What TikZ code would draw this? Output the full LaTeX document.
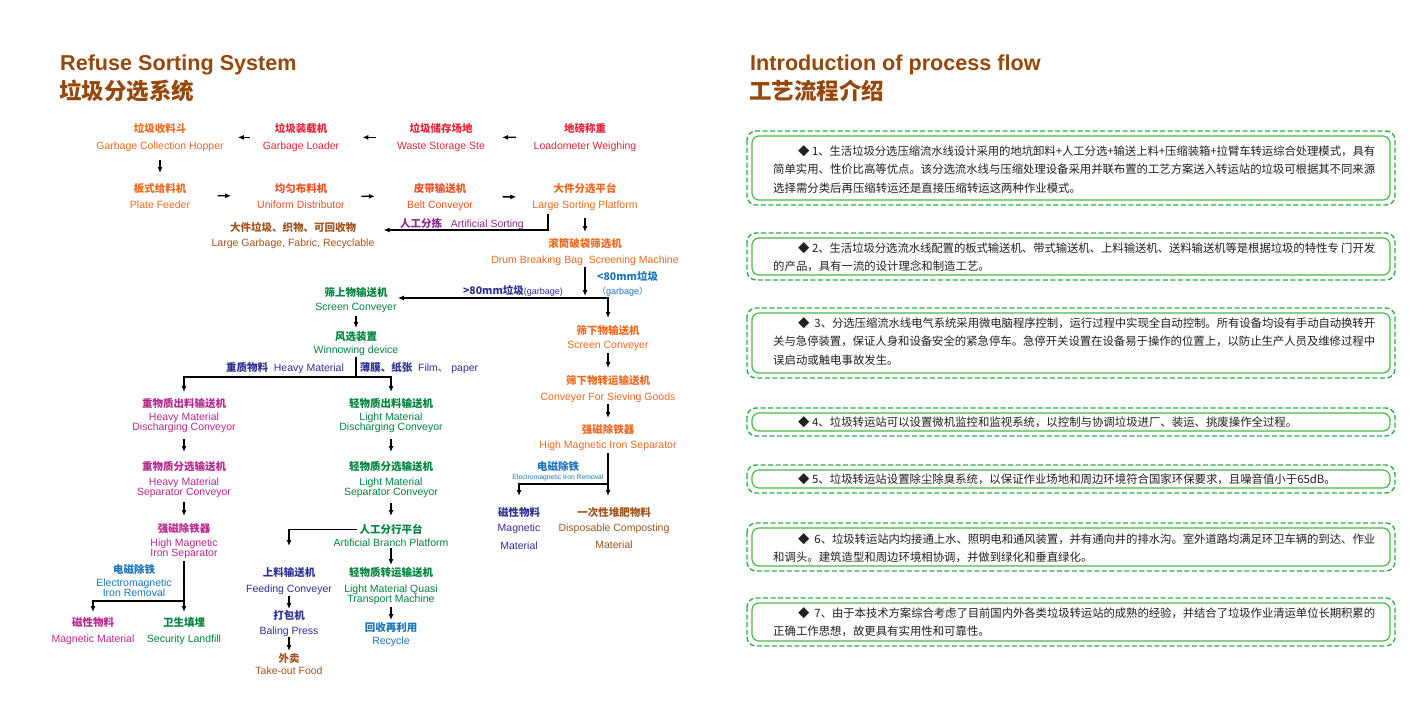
\documentclass[tikz,border=0pt]{standalone}
\usepackage{fontspec}
\setmainfont{Liberation Sans}
\newfontfamily\cjk{Noto Sans CJK SC}
\usetikzlibrary{arrows.meta}
\XeTeXlinebreaklocale "zh"
\XeTeXlinebreakskip=0pt plus 2pt minus 0.6pt
\definecolor{ttl}{RGB}{150,72,12}
\definecolor{cor}{RGB}{238,106,31}
\definecolor{cred}{RGB}{230,36,56}
\definecolor{cortwo}{RGB}{239,80,34}
\definecolor{cbr}{RGB}{160,84,30}
\definecolor{cpu}{RGB}{146,39,143}
\definecolor{cmag}{RGB}{183,40,143}
\definecolor{cnav}{RGB}{46,49,146}
\definecolor{cblu}{RGB}{27,117,188}
\definecolor{cgrn}{RGB}{0,132,61}
\definecolor{fdash}{RGB}{43,176,74}
\definecolor{fsolid}{RGB}{76,184,72}
\definecolor{btx}{RGB}{35,31,32}
\newcommand\zhb[1]{{\cjk\bfseries #1}}
\newcommand\zhr[1]{{\cjk #1}}
\tikzset{
  lbl/.style={inner sep=0pt, align=center, anchor=north, font=\fontsize{10.5}{10.5}\selectfont},
  arr/.style={line width=1.3pt, line cap=rect, -{Latex[length=6pt,width=5pt]}},
  ln/.style={line width=1.3pt, line cap=rect},
  ttlen/.style={anchor=base west, inner sep=0pt, text=ttl, font=\fontsize{21.6}{24}\selectfont\bfseries},
  ttlzh/.style={anchor=base west, inner sep=0pt, text=ttl, font=\fontsize{22.5}{24}\selectfont\cjk\bfseries},
  fout/.style={draw=fdash, line width=1.4pt, dash pattern=on 5pt off 2.5pt, rounded corners=9pt},
  fin/.style={draw=fsolid, line width=1.2pt, rounded corners=7pt},
  btxt/.style={inner sep=0pt, anchor=north west, text width=602pt, align=justify, text=btx, font=\fontsize{11.4}{18.5}\selectfont\cjk}
}
\begin{document}
\begin{tikzpicture}[x=1pt,y=-1pt]
\fill[white] (0,0) rectangle (1417,716);
\useasboundingbox (0,0) rectangle (1417,716);

% titles
\node[ttlen] (tl1) at (60,70) {Refuse Sorting System};
\node[ttlzh] (tl2) at (59,99.5) {垃圾分选系统};
\node[ttlen] (tr1) at (750,70) {Introduction of process flow};
\node[ttlzh] (tr2) at (749,99.5) {工艺流程介绍};

% row 1
\node[lbl, text=cor] (A1) at (160,123) {\zhb{垃圾收料斗}\\[6.5pt]Garbage Collection Hopper};
\node[lbl, text=cred] (A2) at (301,123) {\zhb{垃圾装载机}\\[6.5pt]Garbage Loader};
\node[lbl, text=cred] (A3) at (441,123) {\zhb{垃圾储存场地}\\[6.5pt]Waste Storage Ste};
\node[lbl, text=cred] (A4) at (585,123) {\zhb{地磅称重}\\[6.5pt]Loadometer Weighing};
% row 2
\node[lbl, text=cor] (B1) at (160,183) {\zhb{板式给料机}\\[5.5pt]Plate Feeder};
\node[lbl, text=cortwo] (B2) at (301,183) {\zhb{均匀布料机}\\[5.5pt]Uniform Distributor};
\node[lbl, text=cortwo] (B3) at (440,183) {\zhb{皮带输送机}\\[5.5pt]Belt Conveyor};
\node[lbl, text=cor] (B4) at (585,183) {\zhb{大件分选平台}\\[5.5pt]Large Sorting Platform};

\node[lbl, text=cbr] (LG) at (293,222) {\zhb{大件垃圾、织物、可回收物}\\[4.5pt]Large Garbage, Fabric, Recyclable};
\node[lbl, anchor=center, text=cpu] (AS) at (462,224) {\zhb{人工分拣}\ \ \ Artificial Sorting};
\node[lbl, text=cor] (DR) at (585,238) {\zhb{滚筒破袋筛选机}\\[5.5pt]Drum Breaking Bag\ \ Screening Machine};
\node[lbl, anchor=north west, align=left, text=cblu] (L80) at (597,271) {\zhb{<80mm垃圾}\\[4pt]{\fontsize{9}{9}\selectfont\zhr{（}garbage\zhr{）}}};
\node[lbl, anchor=center, text=cnav] (G80) at (513,291) {\zhb{>80mm垃圾}{\fontsize{9}{9}\selectfont(garbage)}};

% left branch
\node[lbl, text=cgrn] (SC) at (356,287) {\zhb{筛上物输送机}\\[3.5pt]Screen Conveyer};
\node[lbl, text=cgrn] (WD) at (356,331) {\zhb{风选装置}\\[2.5pt]Winnowing device};
\node[lbl, anchor=center, text=cnav] (HM) at (285,368) {\zhb{重质物料}\ \ Heavy Material};
\node[lbl, anchor=center, text=cnav] (FP) at (419,368) {\zhb{薄膜、纸张}\ \ Film\zhr{、} paper};

\node[lbl, text=cmag] (H1) at (184,398) {\zhb{重物质出料输送机}\\[2.5pt]Heavy Material\\Discharging Conveyor};
\node[lbl, text=cmag] (H2) at (184,461) {\zhb{重物质分选输送机}\\[4.5pt]Heavy Material\\Separator Conveyor};
\node[lbl, text=cmag] (H3) at (184,523) {\zhb{强磁除铁器}\\[3.5pt]High Magnetic\\Iron Separator};
\node[lbl, text=cblu] (EM1) at (134,564) {\zhb{电磁除铁}\\[2.5pt]Electromagnetic\\Iron Removal};
\node[lbl, text=cmag] (MM1) at (93,617) {\zhb{磁性物料}\\[5.5pt]Magnetic Material};
\node[lbl, text=cgrn] (SL) at (184,617) {\zhb{卫生填埋}\\[5.5pt]Security Landfill};

\node[lbl, text=cgrn] (L1) at (391,398) {\zhb{轻物质出料输送机}\\[2.5pt]Light Material\\Discharging Conveyor};
\node[lbl, text=cgrn] (L2) at (391,461) {\zhb{轻物质分选输送机}\\[4.5pt]Light Material\\Separator Conveyor};
\node[lbl, text=cgrn] (ABc) at (391,524) {\zhb{人工分行平台}};
\node[lbl, text=cgrn] (ABe) at (391,539) {Artificial Branch Platform};
\node[lbl, text=cnav] (FC) at (289,567) {\zhb{上料输送机}\\[5.5pt]Feeding Conveyer};
\node[lbl, text=cnav] (BP) at (289,610) {\zhb{打包机}\\[4.5pt]Baling Press};
\node[lbl, text=cbr] (TF) at (289,653) {\zhb{外卖}\\[1.5pt]Take-out Food};
\node[lbl, text=cgrn] (LQ) at (391,567) {\zhb{轻物质转运输送机}\\[5.5pt]Light Material Quasi\\Transport Machine};
\node[lbl, text=cblu] (RC) at (391,622) {\zhb{回收再利用}\\[2.5pt]Recycle};

% right branch
\node[lbl, text=cor] (R1) at (608,325) {\zhb{筛下物输送机}\\[3.5pt]Screen Conveyer};
\node[lbl, text=cor] (R2) at (608,375) {\zhb{筛下物转运输送机}\\[5.5pt]Conveyer For Sieving Goods};
\node[lbl, text=cor] (R3) at (608,424) {\zhb{强磁除铁器}\\[4.5pt]High Magnetic Iron Separator};
\node[lbl, text=cblu] (EM2) at (558,461) {\zhb{电磁除铁}\\[-1.5pt]{\fontsize{6.8}{6.8}\selectfont Electromagnetic Iron Removal}};
\node[lbl, text=cnav] (MM2) at (519,507) {\zhb{磁性物料}\\[4.5pt]Magnetic\\[7.5pt]Material};
\node[lbl, text=cbr] (DC) at (614,507) {\zhb{一次性堆肥物料}\\[4.5pt]Disposable Composting\\[6.5pt]Material};

% connectors row 1 / row 2
\draw[arr, shorten <=13pt, shorten >=14pt] (A2) -- (A1);
\draw[arr, shorten <=22pt, shorten >=23pt] (A3) -- (A2);
\draw[arr, shorten <=18pt, shorten >=17pt] (A4) -- (A3);
\draw[arr, shorten <=9pt, shorten >=10pt] (A1) -- (B1);
\draw[arr, shorten <=28pt, shorten >=26pt] (B1) -- (B2);
\draw[arr, shorten <=17pt, shorten >=32pt] (B2) -- (B3);
\draw[arr, shorten <=30pt, shorten >=16pt] (B3) -- (B4);

\coordinate (k1) at (548,230);
\draw[arr, shorten <=4pt, shorten >=9pt] (k1 |- B4.south) -- (k1) -- (k1 -| LG.east);
\draw[arr, shorten <=8pt, shorten >=6pt] (B4) -- (DR);

\coordinate (j1) at (608,298);
\draw[arr, shorten <=2pt, shorten >=2pt] (DR.south) -- (DR.south |- j1);
\draw[arr, shorten >=1pt] (j1) -- (j1 -| SC.east);
\draw[arr, shorten >=7pt] (j1) -- (j1 |- R1.north);

% left chain
\draw[arr, shorten <=4pt, shorten >=3pt] (SC) -- (WD);
\coordinate (j2) at (356,377);
\draw[ln, shorten <=2pt] (WD.south) -- (j2);
\draw[arr, shorten >=6pt] (j2) -| (H1.north);
\draw[arr, shorten >=6pt] (j2) -| (L1.north);
\draw[arr, shorten <=6pt, shorten >=9pt] (H1) -- (H2);
\draw[arr, shorten <=4pt, shorten >=7pt] (H2) -- (H3);
\coordinate (j3) at (184,601);
\draw[ln, shorten <=2pt] (H3.south) -- (j3);
\draw[arr, shorten >=5pt] (j3) -| (MM1.north);
\draw[arr, shorten >=5pt] (j3) -- (SL.north);

\draw[arr, shorten <=6pt, shorten >=9pt] (L1) -- (L2);
\draw[arr, shorten <=5pt, shorten >=8pt] (L2) -- (ABc);
\coordinate (k4) at (289,546);
\draw[arr, shorten <=3pt] (ABc.west) -| (k4);
\draw[arr, shorten <=2pt, shorten >=2pt] (ABe) -- (LQ);
\draw[arr, shorten <=2pt, shorten >=1pt] (FC) -- (BP);
\draw[arr, shorten <=1pt, shorten >=2pt] (BP) -- (TF);
\draw[arr, shorten <=2pt, shorten >=2pt] (LQ) -- (RC);

% right chain
\draw[arr, shorten <=3pt, shorten >=7pt] (R1) -- (R2);
\draw[arr, shorten <=2pt, shorten >=6pt] (R2) -- (R3);
\coordinate (j5) at (608,484);
\draw[ln, shorten <=3pt] (R3.south) -- (j5);
\draw[arr, shorten >=11pt] (j5) -| (MM2.north);
\draw[arr, shorten >=11pt] (j5) -- (j5 |- DC.north);

% right panel boxes
\draw[fout] (747,131) rectangle (1395,205);
\draw[fin] (752,136) rectangle (1390,200);
\node[btxt] (T1) at (773,145) {\hspace*{25pt}◆ 1、生活垃圾分选压缩流水线设计采用的地坑卸料+人工分选+输送上料+压缩装箱+拉臂车转运综合处理模式，具有\linebreak
简单实用、性价比高等优点。该分选流水线与压缩处理设备采用并联布置的工艺方案送入转运站的垃圾可根据其不同来源\linebreak
选择需分类后再压缩转运还是直接压缩转运这两种作业模式。};

\draw[fout] (747,233) rectangle (1395,280);
\draw[fin] (752,238) rectangle (1390,275);
\node[btxt] (T2) at (773,242) {\hspace*{25pt}◆ 2、生活垃圾分选流水线配置的板式输送机、带式输送机、上料输送机、送料输送机等是根据垃圾的特性专 门开发\linebreak
的产品，具有一流的设计理念和制造工艺。};

\draw[fout] (747,308) rectangle (1395,378);
\draw[fin] (752,313) rectangle (1390,373);
\node[btxt] (T3) at (773,317) {\hspace*{25pt}◆\ \ 3、分选压缩流水线电气系统采用微电脑程序控制，运行过程中实现全自动控制。所有设备均设有手动自动换转开\linebreak
关与急停装置，保证人身和设备安全的紧急停车。急停开关设置在设备易于操作的位置上，以防止生产人员及维修过程中\linebreak
误启动或触电事故发生。};

\draw[fout] (747,408) rectangle (1395,436);
\draw[fin] (752,413) rectangle (1390,431);
\node[btxt] (T4) at (773,416) {\hspace*{25pt}◆ 4、垃圾转运站可以设置微机监控和监视系统，以控制与协调垃圾进厂、装运、挑废操作全过程。};

\draw[fout] (747,465) rectangle (1395,493);
\draw[fin] (752,470) rectangle (1390,488);
\node[btxt] (T5) at (773,473) {\hspace*{25pt}◆ 5、垃圾转运站设置除尘除臭系统，以保证作业场地和周边环境符合国家环保要求，且噪音值小于65dB。};

\draw[fout] (747,523) rectangle (1395,571);
\draw[fin] (752,528) rectangle (1390,566);
\node[btxt] (T6) at (773,533) {\hspace*{25pt}◆\ \ 6、垃圾转运站内均接通上水、照明电和通风装置，并有通向井的排水沟。室外道路均满足环卫车辆的到达、作业\linebreak
和调头。建筑造型和周边环境相协调，并做到绿化和垂直绿化。};

\draw[fout] (747,598) rectangle (1395,646);
\draw[fin] (752,603) rectangle (1390,641);
\node[btxt] (T7) at (773,607) {\hspace*{25pt}◆\ \ 7、由于本技术方案综合考虑了目前国内外各类垃圾转运站的成熟的经验，并结合了垃圾作业清运单位长期积累的\linebreak
正确工作思想，故更具有实用性和可靠性。};
\end{tikzpicture}
\end{document}
